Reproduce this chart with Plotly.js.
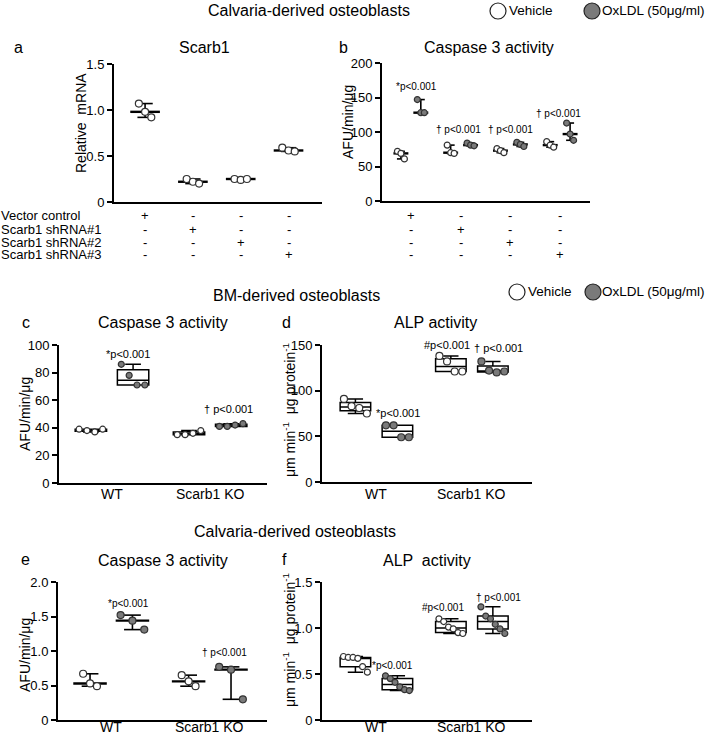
<!DOCTYPE html>
<html><head><meta charset="utf-8">
<script src="https://cdn.plot.ly/plotly-3.0.1.min.js"></script>
<style>html,body{margin:0;padding:0;background:#fff}#chart{width:709px;height:735px}</style>
</head><body><div id="chart"></div>
<script>
// ---------------- data ----------------
const aRowLabels = ['Vector control','Scarb1 shRNA#1','Scarb1 shRNA#2','Scarb1 shRNA#3'];
const aSigns = [['+','-','-','-'],['-','+','-','-'],['-','-','+','-'],['-','-','-','+']];
const aScarb1 = [[1.07,0.98,0.92],[0.25,0.22,0.20],[0.25,0.24,0.25],[0.59,0.56,0.55]];
const bVehicle = [[72,69,61],[81,70,69],[76,73,70],[86,81,78]];
const bOxLDL = [[147,128,128],[84,81,80],[85,82,79],[113,97,88]];
const bPLabels = ['*p<0.001','\u2020 p<0.001','\u2020 p<0.001','\u2020 p<0.001'];
const groupsKO = ['WT','Scarb1 KO'];
const cVehicle = [[39,38,37,39],[35,35,36,38]];
const cOxLDL = [[86,78,71,71],[41,41,42,43]];
const dVehicle = [[91,83,81,75],[138,132,121,121]];
const dOxLDL = [[62,62,49,49],[132,122,120,121]];
const eVehicle = [[0.67,0.53,0.49],[0.65,0.56,0.49]];
const eOxLDL = [[1.52,1.44,1.31],[0.77,0.73,0.30]];
const fVehicle = [[0.69,0.68,0.68,0.67,0.58,0.52],[1.10,1.07,1.01,0.99,0.95,0.94]];
const fOxLDL = [[0.48,0.45,0.41,0.36,0.33,0.32],[1.23,1.13,1.10,1.04,0.99,0.94]];
const legendLabels = ['Vehicle','OxLDL (50\u03bcg/ml)'];

// ---------------- helpers ----------------
const W = 709, H = 735;
const FONT = 'Arial, "Liberation Sans", sans-serif';
const px = v => v / W;
const py = v => 1 - v / H;
const VEH = {color:'#ffffff', line:{color:'#333', width:1.2}};
const OX = {color:'#7a7a7a', line:{color:'#333', width:1.2}};

function median(a){const s=a.slice().sort((x,y)=>x-y);const n=s.length;return n%2?s[(n-1)/2]:(s[n/2-1]+s[n/2])/2;}
function spread(n, step){const o=[];for(let i=0;i<n;i++)o.push((i-(n-1)/2)*step);return o;}

const traces = [];
function dotGroup(ax, pos, vals, filled, medHalf, capHalf, step, msize){
  const xa='x'+ax, ya='y'+ax;
  const mn=Math.min(...vals), mx=Math.max(...vals), md=median(vals);
  const ln={color:'#000', width:1.6};
  traces.push({x:[pos,pos], y:[mn,mx], xaxis:xa, yaxis:ya, mode:'lines', line:ln, hoverinfo:'skip'});
  traces.push({x:[pos-capHalf,pos+capHalf,null,pos-capHalf,pos+capHalf], y:[mn,mn,null,mx,mx], xaxis:xa, yaxis:ya, mode:'lines', line:ln, hoverinfo:'skip'});
  traces.push({x:[pos-medHalf,pos+medHalf], y:[md,md], xaxis:xa, yaxis:ya, mode:'lines', line:{color:'#000', width:2.4}, hoverinfo:'skip'});
  const off = spread(vals.length, step);
  traces.push({x:vals.map((v,i)=>pos+off[i]), y:vals, xaxis:xa, yaxis:ya, mode:'markers',
    marker:Object.assign({size:msize, symbol:'circle'}, filled?OX:VEH)});
}
function boxGroup(ax, pos, vals, filled, width, step, msize){
  const xa='x'+ax, ya='y'+ax;
  traces.push({type:'box', x:vals.map(()=>pos), y:vals, xaxis:xa, yaxis:ya, boxpoints:false,
    quartilemethod:'exclusive', width:width, whiskerwidth:0.5, fillcolor:'rgba(0,0,0,0)',
    line:{color:'#000', width:1.5}, hoverinfo:'skip'});
  const off = spread(vals.length, step);
  traces.push({x:vals.map((v,i)=>pos+off[i]), y:vals, xaxis:xa, yaxis:ya, mode:'markers',
    marker:Object.assign({size:msize, symbol:'circle'}, filled?OX:VEH)});
}

aScarb1.forEach((vals,i)=>dotGroup('', i+1, vals, false, 0.31, 0.16, 0.13, 7));
bVehicle.forEach((vals,i)=>dotGroup('2', i+1-0.2, vals, false, 0.15, 0.08, 0.07, 6));
bOxLDL.forEach((vals,i)=>dotGroup('2', i+1+0.2, vals, true, 0.15, 0.08, 0.07, 6));
cVehicle.forEach((vals,i)=>boxGroup('3', i+1-0.215, vals, false, 0.32, 0.08, 6));
cOxLDL.forEach((vals,i)=>boxGroup('3', i+1+0.215, vals, true, 0.32, 0.08, 6));
dVehicle.forEach((vals,i)=>boxGroup('4', i+1-0.22, vals, false, 0.32, 0.08, 7));
dOxLDL.forEach((vals,i)=>boxGroup('4', i+1+0.22, vals, true, 0.32, 0.08, 7));
eVehicle.forEach((vals,i)=>dotGroup('5', i+1-0.215, vals, false, 0.17, 0.085, 0.07, 7));
eOxLDL.forEach((vals,i)=>dotGroup('5', i+1+0.215, vals, true, 0.17, 0.085, 0.12, 7));
fVehicle.forEach((vals,i)=>boxGroup('6', i+1-0.22, vals, false, 0.32, 0.05, 6));
fOxLDL.forEach((vals,i)=>boxGroup('6', i+1+0.22, vals, true, 0.32, 0.05, 6));

// ---------------- axes ----------------
const yBase = {showline:true, linecolor:'#000', linewidth:2, ticks:'outside', ticklen:5, tickwidth:2,
  tickcolor:'#000', showgrid:false, zeroline:false, tickfont:{size:13, color:'#000', family:FONT}, fixedrange:true};
const xBase = {showline:true, linecolor:'#000', linewidth:2, ticks:'', showgrid:false, zeroline:false,
  showticklabels:false, fixedrange:true};

function xax(l, r, range){
  return Object.assign({}, xBase, {domain:[px(l), px(r)], range:range});
}
function yax(t, b, range, vals, text){
  return Object.assign({}, yBase, {domain:[py(b), py(t)], range:range, tickvals:vals, ticktext:text});
}

const layout = {
  width:W, height:H, margin:{l:0,r:0,t:0,b:0}, paper_bgcolor:'#fff', plot_bgcolor:'rgba(0,0,0,0)',
  showlegend:false, font:{family:FONT, color:'#000'},
  xaxis: Object.assign(xax(114, 322, [0.35, 4.7]), {anchor:'y'}),
  yaxis: Object.assign(yax(64, 202, [0, 1.5], [0,0.5,1,1.5], ['0','0.5','1.0','1.5']), {anchor:'x'}),
  xaxis2: Object.assign(xax(382, 590, [0.42, 4.6]), {anchor:'y2'}),
  yaxis2: Object.assign(yax(63, 201, [0, 200], [0,50,100,150,200], ['0','50','100','150','200']), {anchor:'x2'}),
  xaxis3: Object.assign(xax(59, 267, [0.46, 2.58]), {anchor:'y3'}),
  yaxis3: Object.assign(yax(345, 483, [0, 100], [0,20,40,60,80,100], ['0','20','40','60','80','100']), {anchor:'x3'}),
  xaxis4: Object.assign(xax(322, 532, [0.43, 2.63]), {anchor:'y4'}),
  yaxis4: Object.assign(yax(345, 482, [0, 150], [0,50,100,150], ['0','50','100','150']), {anchor:'x4'}),
  xaxis5: Object.assign(xax(58, 267, [0.46, 2.58]), {anchor:'y5'}),
  yaxis5: Object.assign(yax(582, 720, [0, 2], [0,0.5,1,1.5,2], ['0','0.5','1.0','1.5','2.0']), {anchor:'x5'}),
  xaxis6: Object.assign(xax(322, 532, [0.43, 2.63]), {anchor:'y6'}),
  yaxis6: Object.assign(yax(582, 720, [0, 1.5], [0,0.5,1,1.5], ['0','0.5','1.0','1.5']), {anchor:'x6'}),
  annotations: [], shapes: []
};

const ann = layout.annotations;
function txt(x, y, text, size, opts){
  ann.push(Object.assign({xref:'paper', yref:'paper', x:px(x), y:py(y), text:text, showarrow:false,
    font:{size:size, color:'#000', family:FONT}, xanchor:'center', yanchor:'middle'}, opts||{}));
}
function axTxt(xref, xv, y, text, size){
  ann.push({xref:xref, yref:'paper', x:xv, y:py(y), text:text, showarrow:false, borderpad:0,
    font:{size:size, family:FONT, color:'#000'}, xanchor:'center', yanchor:'middle'});
}
// section titles
txt(309, 11, 'Calvaria-derived osteoblasts', 16);
txt(296, 295, 'BM-derived osteoblasts', 16);
txt(295, 531, 'Calvaria-derived osteoblasts', 16);
// legends
function legend(cx1, cx2, y){
  layout.shapes.push({type:'circle', xref:'paper', yref:'paper', x0:px(cx1-8), x1:px(cx1+8), y0:py(y+8), y1:py(y-8), line:{color:'#222', width:1.2}, fillcolor:'#fff'});
  layout.shapes.push({type:'circle', xref:'paper', yref:'paper', x0:px(cx2-8), x1:px(cx2+8), y0:py(y+8), y1:py(y-8), line:{color:'#222', width:1.2}, fillcolor:'#7a7a7a'});
  txt(cx1+9, y, legendLabels[0], 13.5, {xanchor:'left'});
  txt(706, y, legendLabels[1], 13.5, {xanchor:'right', borderpad:0});
}
legend(498, 592, 11);
legend(517, 593, 292);
// panel letters and titles
txt(18, 47, 'a', 16); txt(343, 47, 'b', 16);
txt(26, 322, 'c', 16); txt(286, 322, 'd', 16);
txt(25, 559, 'e', 16); txt(284, 559, 'f', 16);
txt(204, 47, 'Scarb1', 16); txt(489, 47, 'Caspase 3 activity', 16);
txt(163, 322, 'Caspase 3 activity', 16); txt(435, 322, 'ALP activity', 16);
txt(163, 560, 'Caspase 3 activity', 16); txt(427, 560, 'ALP  activity', 16);
// y-axis titles
const yt = {textangle:-90};
txt(81, 123, 'Relative  mRNA', 14, yt);
txt(348, 122, 'AFU/min/\u03bcg', 14, yt);
txt(25, 414, 'AFU/min/\u03bcg', 14, yt);
txt(289, 410, '\u03bcm min<sup>-1</sup>  \u03bcg protein<sup>-1</sup>', 14, yt);
txt(25, 655, 'AFU/min/\u03bcg', 14, yt);
txt(289, 640, '\u03bcm min<sup>-1</sup>  \u03bcg protein<sup>-1</sup>', 14, yt);
// x category labels
groupsKO.forEach((g,i)=>{
  axTxt('x3', i+1, 494, g, 14); axTxt('x4', i+1, 494, g, 14);
  axTxt('x5', i+1, 727, g, 14); axTxt('x6', i+1, 727, g, 14);
});
// table under a / b
const rowY = [216, 229, 242, 255];
aRowLabels.forEach((lab, r)=>{
  txt(0, rowY[r], lab, 13, {xanchor:'left', borderpad:0});
  aSigns[r].forEach((s, g)=>{ axTxt('x', g+1, rowY[r], s, 13); axTxt('x2', g+1, rowY[r], s, 13); });
});
// p-value labels
const pb = [[416,87],[458,130],[510,130],[558,113]];
bPLabels.forEach((l,i)=>txt(pb[i][0], pb[i][1], l, 10));
txt(128, 354, '*p<0.001', 11); txt(228, 409, '\u2020 p<0.001', 11);
txt(398, 413, '*p<0.001', 11); txt(447, 345, '#p<0.001', 11); txt(498, 348, '\u2020 p<0.001', 11);
txt(128, 603, '*p<0.001', 10); txt(224, 652, '\u2020 p<0.001', 10);
txt(392, 665, '*p<0.001', 10); txt(443, 607, '#p<0.001', 10); txt(498, 597, '\u2020 p<0.001', 10);

Plotly.newPlot('chart', traces, layout, {staticPlot:true, displayModeBar:false});
</script></body></html>
